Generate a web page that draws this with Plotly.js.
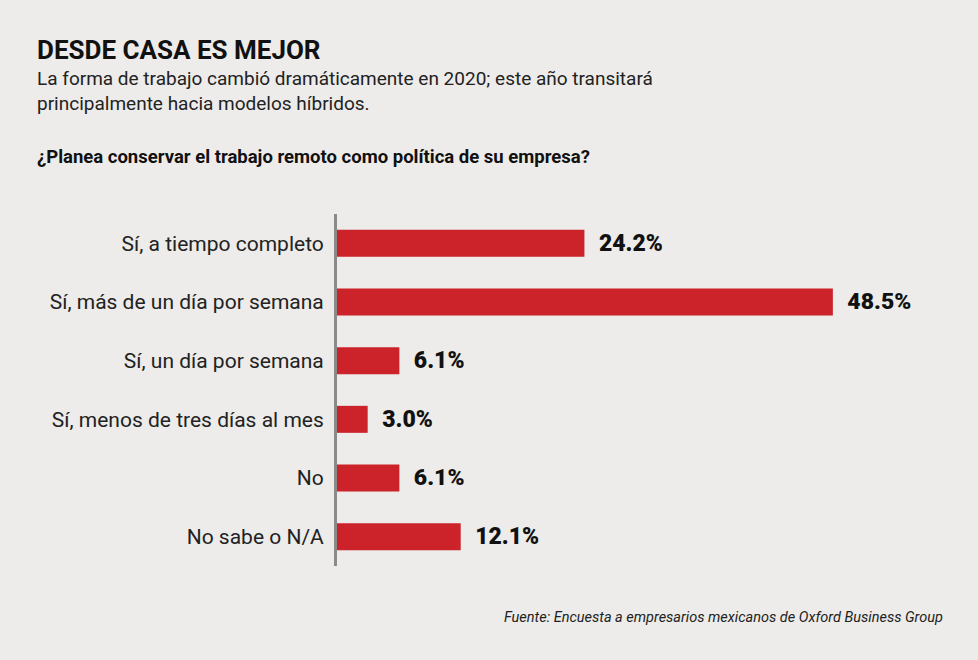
<!DOCTYPE html>
<html>
<head>
<meta charset="utf-8">
<script src="https://cdn.plot.ly/plotly-3.0.1.min.js"></script>
<style>html,body{margin:0;padding:0;background:#edecea;}</style>
</head>
<body>
<div id="chart" style="width:978px;height:660px;"></div>
<script>
const categories = [
  "Sí, a tiempo completo",
  "Sí, más de un día por semana",
  "Sí, un día por semana",
  "Sí, menos de tres días al mes",
  "No",
  "No sabe o N/A"
];
const values = [24.2, 48.5, 6.1, 3.0, 6.1, 12.1];
const valueLabels = ["24.2%", "48.5%", "6.1%", "3.0%", "6.1%", "12.1%"];

const FONT = "Roboto, 'Open Sans', sans-serif";

const trace = {
  type: "bar",
  orientation: "h",
  x: values,
  y: categories,
  text: valueLabels,
  texttemplate: "\u00a0\u00a0%{text}",
  textposition: "outside",
  textfont: {family: FONT, size: 23, color: "#111", weight: 900},
  cliponaxis: false,
  marker: {color: "#cc2229", line: {width: 0}},
  hoverinfo: "skip"
};

const layout = {
  width: 978, height: 660,
  paper_bgcolor: "#edecea",
  plot_bgcolor: "#edecea",
  margin: {l: 337, r: 48, t: 214, b: 94},
  bargap: 0.54,
  showlegend: false,
  font: {family: FONT, color: "#222"},
  xaxis: {range: [0, 58], visible: false, fixedrange: true},
  yaxis: {
    autorange: "reversed",
    showgrid: false,
    zeroline: false,
    showline: true,
    linecolor: "#8a8a8a",
    linewidth: 3,
    ticks: "outside",
    ticklen: 6,
    tickcolor: "rgba(0,0,0,0)",
    tickfont: {family: FONT, size: 21, color: "#222"}
  },
  annotations: [
    {text: "<b>DESDE CASA ES MEJOR</b>", xref: "paper", yref: "paper",
     x: (35 - 337) / 593, y: 1 + (214 - 50) / 352, xanchor: "left", yanchor: "middle",
     showarrow: false, font: {family: FONT, size: 26, color: "#111", weight: 900}},
    {text: "La forma de trabajo cambió dramáticamente en 2020; este año transitará<br>principalmente hacia modelos híbridos.",
     xref: "paper", yref: "paper", align: "left",
     x: (35 - 337) / 593, y: 1 + (214 - 91) / 352, xanchor: "left", yanchor: "middle",
     showarrow: false, font: {family: FONT, size: 19, color: "#222"}},
    {text: "<b>¿Planea conservar el trabajo remoto como política de su empresa?</b>",
     xref: "paper", yref: "paper",
     x: (35 - 337) / 593, y: 1 + (214 - 157) / 352, xanchor: "left", yanchor: "middle",
     showarrow: false, font: {family: FONT, size: 18.5, color: "#111"}},
    {text: "<i>Fuente: Encuesta a empresarios mexicanos de Oxford Business Group</i>",
     xref: "paper", yref: "paper",
     x: (945 - 337) / 593, y: -(617 - 566) / 352, xanchor: "right", yanchor: "middle",
     showarrow: false, font: {family: FONT, size: 14.5, color: "#222"}}
  ]
};

Plotly.newPlot("chart", [trace], layout, {displayModeBar: false, staticPlot: true});
</script>
</body>
</html>
